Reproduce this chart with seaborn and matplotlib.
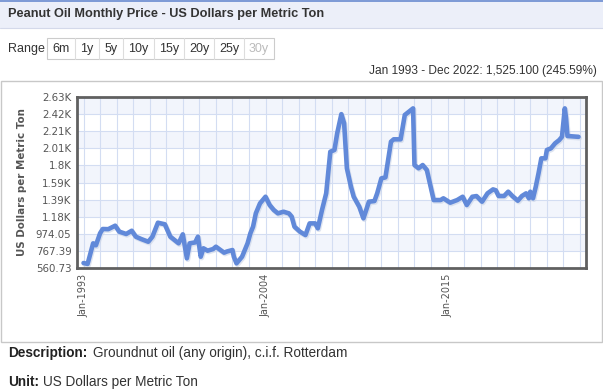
import pandas as pd
import numpy as np
import matplotlib.pyplot as plt
import matplotlib.dates as mdates
from matplotlib.patches import Rectangle
import seaborn as sns

# ---------------------------
# Data
# ---------------------------
months = [
    "1993-01", "1993-04", "1993-08", "1993-10", "1994-01", "1994-03", "1994-07", "1994-12",
    "1995-03", "1995-08", "1995-12", "1996-03", "1996-07", "1996-12", "1997-03", "1997-07",
    "1997-12", "1998-04", "1998-10", "1999-01", "1999-04", "1999-06", "1999-10", "1999-12",
    "2000-02", "2000-04", "2000-07", "2000-11", "2001-01", "2001-07", "2001-09", "2002-01",
    "2002-02", "2002-04", "2002-08", "2002-12", "2003-02", "2003-04", "2003-06", "2003-09",
    "2004-01", "2004-04", "2004-07", "2004-10", "2005-02", "2005-06", "2005-08", "2005-10",
    "2006-02", "2006-06", "2006-09", "2007-01", "2007-03", "2007-06", "2007-09", "2007-12",
    "2008-03", "2008-05", "2008-08", "2008-10", "2008-12", "2009-03", "2009-05", "2009-09",
    "2009-12", "2010-02", "2010-04", "2010-08", "2010-10", "2011-01", "2011-04", "2011-08",
    "2011-10", "2012-03", "2012-06", "2012-09", "2012-12", "2013-01", "2013-04", "2013-07",
    "2013-10", "2014-03", "2014-08", "2014-10", "2015-03", "2015-08", "2015-12", "2016-03",
    "2016-07", "2016-10", "2017-02", "2017-06", "2017-10", "2017-12", "2018-02", "2018-06",
    "2018-09", "2018-12", "2019-04", "2019-07", "2019-10", "2019-12", "2020-01", "2020-03",
    "2020-05", "2020-07", "2020-09", "2020-12", "2021-01", "2021-04", "2021-07", "2021-10",
    "2021-12", "2022-02", "2022-03", "2022-04", "2022-12",
]
prices = [
    621, 610, 859, 835, 980, 1032, 1030, 1072,
    1000, 972, 1011, 939, 910, 878, 939, 1108,
    1089, 939, 859, 968, 678, 859, 870, 939,
    697, 799, 770, 790, 818, 746, 760, 778,
    697, 617, 697, 859, 980, 1060, 1221, 1342,
    1422, 1322, 1262, 1221, 1241, 1221, 1181, 1060,
    999, 959, 1100, 1100, 1040, 1262, 1463, 1966,
    1987, 2188, 2420, 2309, 1766, 1543, 1422, 1301,
    1161, 1262, 1362, 1370, 1463, 1644, 1656, 2087,
    2116, 2116, 2410, 2450, 2490, 1805, 1766, 1805,
    1745, 1382, 1382, 1403, 1350, 1382, 1422, 1322,
    1422, 1430, 1362, 1463, 1511, 1500, 1431, 1431,
    1483, 1431, 1374, 1431, 1463, 1403, 1483, 1403,
    1543, 1705, 1886, 1886, 1987, 2007, 2067, 2107,
    2147, 2490, 2370, 2156, 2146,
]
y_ticks = [560.73, 767.39, 974.05, 1180.71, 1387.37, 1594.03, 1800.69, 2007.35, 2214.01, 2420.67, 2627.33]
y_labels = ["560.73", "767.39", "974.05", "1.18K", "1.39K", "1.59K", "1.8K", "2.01K", "2.21K", "2.42K", "2.63K"]
x_label_years = ["1993", "2004", "2015"]
range_buttons = ["6m", "1y", "5y", "10y", "15y", "20y", "25y", "30y"]

df = pd.DataFrame({"date": pd.to_datetime(months), "price": prices})

sns.set_style("white")
plt.rcParams["font.family"] = ["Liberation Sans", "DejaVu Sans"]

W, H = 603, 391
fig = plt.figure(figsize=(W / 100, H / 100), dpi=100)
fig.patch.set_facecolor("white")

def px(x, y):
    # pixel coords (top-left origin) -> figure fraction
    return x / W, 1 - y / H

# ---------------------------
# Header / frame decorations
# ---------------------------
fig.add_artist(Rectangle(px(0, 28), 1, 27 / H, transform=fig.transFigure,
                         facecolor="#eceff9", edgecolor="none"))
fig.add_artist(Rectangle(px(0, 2), 1, 2 / H, transform=fig.transFigure,
                         facecolor="#7f9bd6", edgecolor="none"))
fig.add_artist(plt.Line2D([0, 1], [1 - 28 / H] * 2, transform=fig.transFigure,
                          color="#d4d9ea", lw=0.8))
fig.text(*px(8, 14), "Peanut Oil Monthly Price - US Dollars per Metric Ton",
         fontsize=9.2, fontweight="bold", color="#333333", va="center", ha="left")

# range selector
fig.text(*px(8, 49), "Range", fontsize=9, color="#333333", va="center")
edges = [47, 75, 99, 123, 154, 184, 214, 244, 274]
fig.add_artist(Rectangle(px(edges[0], 59), (edges[-1] - edges[0]) / W, 21 / H,
                         transform=fig.transFigure, facecolor="white",
                         edgecolor="#cccccc", lw=0.8))
for i, lab in enumerate(range_buttons):
    if i > 0:
        fig.add_artist(plt.Line2D([edges[i] / W] * 2, [1 - 38 / H, 1 - 59 / H],
                                  transform=fig.transFigure, color="#dddddd", lw=0.8))
    cx = (edges[i] + edges[i + 1]) / 2
    fig.text(*px(cx, 49), lab, fontsize=9, ha="center", va="center",
             color="#bbbbbb" if lab == "30y" else "#333333")

fig.text(*px(597, 71), "Jan 1993 - Dec 2022: 1,525.100 (245.59%)", fontsize=8.6,
         color="#333333", ha="right", va="center")

# chart panel border
fig.add_artist(Rectangle(px(0.5, 342), 601 / W, 261 / H, transform=fig.transFigure,
                         facecolor="none", edgecolor="#c8c8c8", lw=1))

# footer
fig.text(*px(8, 353), "Description:", fontsize=9.8, fontweight="bold", color="#222222", va="center")
fig.text(*px(93, 353), "Groundnut oil (any origin), c.i.f. Rotterdam", fontsize=9.8,
         color="#333333", va="center")
fig.text(*px(8, 382), "Unit:", fontsize=9.8, fontweight="bold", color="#222222", va="center")
fig.text(*px(43, 382), "US Dollars per Metric Ton", fontsize=9.8, color="#333333", va="center")

# ---------------------------
# Main plot
# ---------------------------
left, top, right, bottom = 77, 97, 586, 268
ax = fig.add_axes([left / W, 1 - bottom / H, (right - left) / W, (bottom - top) / H])

# alternating bands
for i in range(len(y_ticks) - 1):
    if (len(y_ticks) - 2 - i) % 2 == 0:
        ax.axhspan(y_ticks[i], y_ticks[i + 1], color="#f2f5fc", zorder=0, lw=0)

# yearly vertical grid
for yr in range(1993, 2024):
    ax.axvline(pd.Timestamp(f"{yr}-01-01"), color="#d3ddf2", lw=0.8, zorder=1)
for v in y_ticks[1:-1]:
    ax.axhline(v, color="#d3ddf2", lw=0.8, zorder=1)

# soft shadow then the line
ax.plot(df["date"] + pd.Timedelta(days=20), df["price"] - 15, color="#c9d3e6",
        lw=3.6, alpha=0.6, zorder=2, solid_joinstyle="round", solid_capstyle="round")
sns.lineplot(data=df, x="date", y="price", ax=ax, color="#6189d9", lw=3.3,
             zorder=3, solid_joinstyle="round", solid_capstyle="round")

ax.set_xlim(pd.Timestamp("1992-08-10"), pd.Timestamp("2023-05-15"))
ax.set_ylim(y_ticks[0], y_ticks[-1])
ax.set_yticks(y_ticks)
ax.set_yticklabels(y_labels, family="DejaVu Sans", fontsize=7.4, color="#555555")
ax.set_xticks([pd.Timestamp(f"{y}-01-01") for y in x_label_years])
ax.set_xticklabels([f"Jan-{y}" for y in x_label_years], rotation=90, family="DejaVu Sans",
                   fontsize=7, color="#555555", va="top")
ax.tick_params(axis="both", length=0, pad=4)
ax.set_xlabel("")
ax.set_ylabel("US Dollars per Metric Ton", family="DejaVu Sans", fontsize=7.4,
              fontweight="bold", color="#555555", labelpad=6)
for s in ax.spines.values():
    s.set_visible(True)
    s.set_color("#606060")
    s.set_linewidth(2)
ax.grid(False)

fig.savefig("out.png", dpi=100)
